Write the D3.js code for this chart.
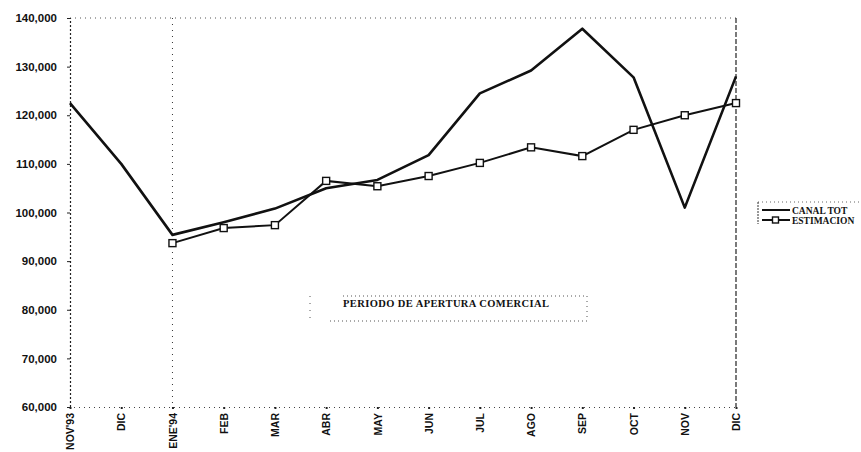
<!DOCTYPE html>
<html>
<head>
<meta charset="utf-8">
<script src="https://cdn.jsdelivr.net/npm/d3@7"></script>
<style>
  body { margin: 0; background: #fff; }
  svg { display: block; }
</style>
</head>
<body>
<svg id="chart" width="861" height="452"></svg>
<script>
const months = ["NOV'93", "DIC", "ENE'94", "FEB", "MAR", "ABR", "MAY", "JUN", "JUL", "AGO", "SEP", "OCT", "NOV", "DIC"];
const canalTot = [122500, 110000, 95400, 98000, 100800, 105000, 106700, 111800, 124500, 129200, 137800, 127800, 101000, 128000];
const estimacion = [null, null, 93700, 96800, 97400, 106500, 105400, 107500, 110200, 113400, 111600, 117000, 120000, 122500];
const yTicks = [60000, 70000, 80000, 90000, 100000, 110000, 120000, 130000, 140000];

const plot = { left: 70, right: 736, top: 18, bottom: 407 };

const svg = d3.select("#chart");

const x = d3.scalePoint()
  .domain(d3.range(months.length))
  .range([plot.left, plot.right]);

const y = d3.scaleLinear()
  .domain([60000, 140000])
  .range([plot.bottom, plot.top]);

// frame: dotted top, dashed right
svg.append("line")
  .attr("x1", plot.left).attr("x2", plot.right).attr("y1", plot.top).attr("y2", plot.top)
  .attr("stroke", "#555").attr("stroke-width", 1).attr("stroke-dasharray", "1,4");
svg.append("line")
  .attr("x1", plot.right).attr("x2", plot.right).attr("y1", plot.top).attr("y2", plot.bottom)
  .attr("stroke", "#222").attr("stroke-width", 1.2).attr("stroke-dasharray", "5,2");

// ENE'94 marker line
svg.append("line")
  .attr("x1", x(2)).attr("x2", x(2)).attr("y1", plot.top).attr("y2", plot.bottom)
  .attr("stroke", "#333").attr("stroke-width", 1).attr("stroke-dasharray", "1,5");

// y axis
const yAxis = svg.append("g")
  .attr("transform", `translate(${plot.left},0)`)
  .call(d3.axisLeft(y).tickValues(yTicks).tickFormat(d3.format(",")).tickSize(3).tickPadding(10));
yAxis.select(".domain")
  .attr("stroke", "#222").attr("stroke-width", 1.2).attr("stroke-dasharray", "2,2");
yAxis.selectAll(".tick line").attr("stroke", "#222");
yAxis.selectAll("text")
  .attr("font-family", "Liberation Sans, Arial, sans-serif")
  .attr("font-size", 11.5).attr("font-weight", "bold").attr("fill", "#111");

// x axis
const xAxis = svg.append("g")
  .attr("transform", `translate(0,${plot.bottom})`)
  .call(d3.axisBottom(x).tickFormat(i => months[i]).tickSize(2).tickPadding(4));
xAxis.select(".domain")
  .attr("stroke", "#444").attr("stroke-width", 1).attr("stroke-dasharray", "1,4");
xAxis.selectAll(".tick line").attr("stroke", "#222").attr("stroke-width", 2);
xAxis.selectAll("text")
  .attr("font-family", "Liberation Sans, Arial, sans-serif")
  .attr("font-size", 10.5).attr("font-weight", "bold").attr("fill", "#111")
  .attr("transform", "rotate(-90)")
  .attr("text-anchor", "end")
  .attr("dy", "0.35em")
  .attr("y", 0)
  .attr("x", -6);

// annotation box
const ann = svg.append("g");
ann.append("line")
  .attr("x1", 343).attr("x2", 587).attr("y1", 296).attr("y2", 296)
  .attr("stroke", "#555").attr("stroke-dasharray", "1,3");
ann.append("line")
  .attr("x1", 330).attr("x2", 587).attr("y1", 321).attr("y2", 321)
  .attr("stroke", "#555").attr("stroke-dasharray", "1,3");
ann.append("line")
  .attr("x1", 310).attr("x2", 310).attr("y1", 296).attr("y2", 321)
  .attr("stroke", "#555").attr("stroke-dasharray", "1,6");
ann.append("line")
  .attr("x1", 587).attr("x2", 587).attr("y1", 296).attr("y2", 321)
  .attr("stroke", "#555").attr("stroke-dasharray", "1,4");
ann.append("text")
  .attr("x", 343).attr("y", 307)
  .attr("font-family", "Liberation Serif, Times New Roman, serif")
  .attr("font-size", 10.5).attr("font-weight", "bold")
  .attr("letter-spacing", 0.4)
  .attr("fill", "#111")
  .text("PERIODO DE APERTURA COMERCIAL");

// lines
const lineGen = d3.line()
  .defined(d => d != null)
  .x((d, i) => x(i))
  .y(d => y(d));

svg.append("path")
  .datum(canalTot)
  .attr("fill", "none")
  .attr("stroke", "#111")
  .attr("stroke-width", 2.6)
  .attr("stroke-linejoin", "round")
  .attr("d", lineGen);

svg.append("path")
  .datum(estimacion)
  .attr("fill", "none")
  .attr("stroke", "#111")
  .attr("stroke-width", 2)
  .attr("d", lineGen);

svg.selectAll(".est-mark")
  .data(estimacion.map((v, i) => ({ v, i })).filter(d => d.v != null))
  .join("rect")
  .attr("class", "est-mark")
  .attr("x", d => x(d.i) - 3.5)
  .attr("y", d => y(d.v) - 3.5)
  .attr("width", 7)
  .attr("height", 7)
  .attr("fill", "#fff")
  .attr("stroke", "#111")
  .attr("stroke-width", 1.4);

// legend
const lg = svg.append("g").attr("transform", "translate(758,202)");
lg.append("line")
  .attr("x1", 0).attr("x2", 103).attr("y1", 0).attr("y2", 0)
  .attr("stroke", "#666").attr("stroke-dasharray", "1,3");
lg.append("line")
  .attr("x1", 0).attr("x2", 0).attr("y1", 0).attr("y2", 22)
  .attr("stroke", "#333").attr("stroke-dasharray", "2,1");
lg.append("line")
  .attr("x1", 4).attr("x2", 32).attr("y1", 8).attr("y2", 8)
  .attr("stroke", "#111").attr("stroke-width", 2);
lg.append("line")
  .attr("x1", 4).attr("x2", 32).attr("y1", 18).attr("y2", 18)
  .attr("stroke", "#111").attr("stroke-width", 2);
lg.append("rect")
  .attr("x", 14.5).attr("y", 15).attr("width", 6).attr("height", 6)
  .attr("fill", "#fff").attr("stroke", "#111").attr("stroke-width", 1.4);
lg.append("text")
  .attr("x", 34).attr("y", 11.5)
  .attr("font-family", "Liberation Serif, Times New Roman, serif")
  .attr("font-size", 9.5).attr("font-weight", "bold").attr("fill", "#111")
  .text("CANAL TOT");
lg.append("text")
  .attr("x", 34).attr("y", 21.5)
  .attr("font-family", "Liberation Serif, Times New Roman, serif")
  .attr("font-size", 9.5).attr("font-weight", "bold").attr("fill", "#111")
  .text("ESTIMACION");
</script>
</body>
</html>
